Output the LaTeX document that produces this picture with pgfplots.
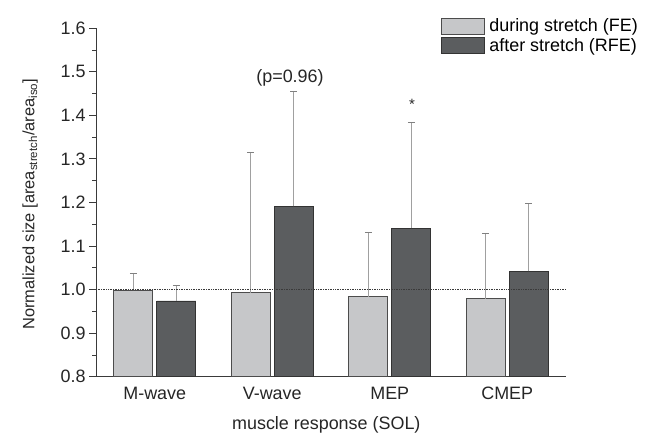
\documentclass[border=0pt]{standalone}
\usepackage{pgfplots}
\pgfplotsset{compat=1.18}
\usepackage{fontspec}
\setmainfont{Liberation Sans}
\definecolor{lightbar}{HTML}{C6C7C9}
\definecolor{darkbar}{HTML}{5B5D5F}
\definecolor{axcol}{HTML}{3A3A3A}
\definecolor{errcol}{HTML}{A0A0A0}
\begin{document}
\begin{tikzpicture}[x=1bp,y=1bp]
\path (0,0) rectangle (655,435);
\begin{axis}[
  at={(96bp,58.3bp)}, anchor=south west,
  scale only axis, width=470bp, height=348.5bp,
  ybar=4bp, bar width=39bp,
  every axis plot post/.append style={
    /pgfplots/legend image code/.code={\draw[##1] (0bp,-8bp) rectangle (43bp,8bp);}},
  xmin=-0.5, xmax=3.5, ymin=0.8, ymax=1.6,
  axis lines*=left,
  axis line style={color=axcol, line width=0.8pt},
  xtick={0,1,2,3},
  xticklabels={M-wave,V-wave,MEP,CMEP},
  xtick style={draw=none},
  extra x ticks={0.5,1.5,2.5,3.5},
  extra x tick labels={},
  extra x tick style={tick align=center, major tick length=8bp, tick style={draw=axcol,line width=0.8pt}},
  ytick={0.8,0.9,...,1.61},
  minor y tick num=1,
  y tick label style={/pgf/number format/fixed, /pgf/number format/fixed zerofill, /pgf/number format/precision=1},
  ytick align=outside,
  y tick style={draw=axcol, line width=0.8pt},
  major tick length=7bp,
  minor tick length=4bp,
  tick label style={font=\fontsize{18}{20}\selectfont, color=black!85},
  /pgf/number format/assume math mode=true,
  xlabel={muscle response (SOL)},
  ylabel={Normalized size [area\textsubscript{stretch}/area\textsubscript{iso}]},
  label style={font=\fontsize{18}{20}\selectfont, color=black!85},
  xlabel style={at={(axis description cs:0.49,-0.139)}, anchor=center},
  ylabel style={at={(axis description cs:-0.140,0.495)}, anchor=center, font=\fontsize{16.5}{18}\selectfont},
  legend style={at={(1.166,1.036)}, anchor=north east, draw=none, fill=none,
    font=\fontsize{18}{20}\selectfont, row sep=1bp, inner sep=1bp,
    legend cell align=left, nodes={inner xsep=5bp}},
  clip=false,
]
\addplot[fill=lightbar, draw=black!70, line width=0.6pt,
  error bars/.cd, y dir=plus, y explicit,
  error bar style={color=errcol, line width=0.8pt},
  error mark options={rotate=90, mark size=3.5bp, color=errcol!80!black, line width=0.8pt}]
  table[x=x, y=y, y error=e] {
x y e
0 0.998 0.038
1 0.993 0.323
2 0.984 0.147
3 0.979 0.149
};
\addlegendentry{during stretch (FE)}
\addplot[fill=darkbar, draw=black!80, line width=0.6pt,
  error bars/.cd, y dir=plus, y explicit,
  error bar style={color=errcol, line width=0.8pt},
  error mark options={rotate=90, mark size=3.5bp, color=errcol!80!black, line width=0.8pt}]
  table[x=x, y=y, y error=e] {
x y e
0 0.974 0.035
1 1.191 0.265
2 1.141 0.242
3 1.042 0.155
};
\addlegendentry{after stretch (RFE)}
\draw[densely dotted, color=axcol, line width=0.7pt] (axis cs:-0.5,1.0) -- (axis cs:3.5,1.0);
\node[font=\fontsize{18}{20}\selectfont, color=black!85] at (axis cs:1.151,1.487) {(p=0.96)};
\node[font=\fontsize{15}{16}\selectfont, color=black!85] at (axis cs:2.189,1.425) {*};
\end{axis}
\end{tikzpicture}
\end{document}
